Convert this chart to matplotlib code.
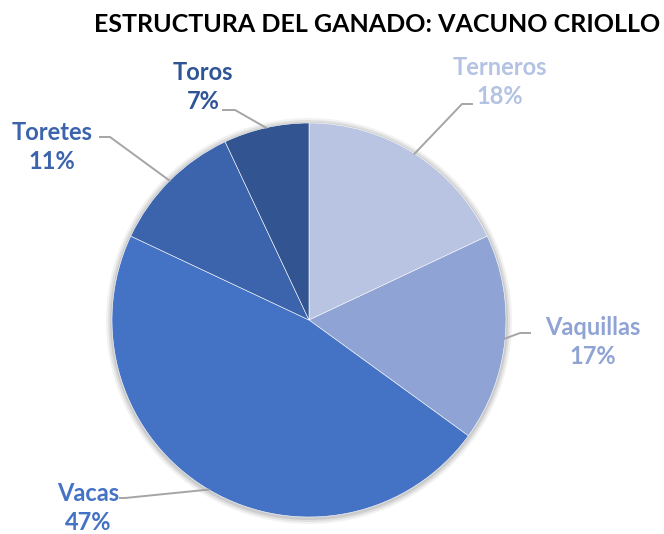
import matplotlib
matplotlib.use("Agg")
import matplotlib.pyplot as plt
import numpy as np
from matplotlib.patches import Circle

categories = ["Terneros", "Vaquillas", "Vacas", "Toretes", "Toros"]
shares = [18, 17, 47, 11, 7]
colors = ["#B9C3E2", "#8FA4D4", "#4472C4", "#3C64AC", "#325592"]
label_colors = ["#B4C2E3", "#8FA4D4", "#4472C4", "#3C64AC", "#2F5597"]

# layout in pixel space (y measured from the top of the picture)
W, H = 664, 534
cx, cy, r = 309, 320, 197
label_pos = [(500, 82), (593, 342), (88, 508), (52, 147), (203, 87)]
leader_knee = [(462, 104), (520, 333), (125, 498), (110, 137), (235, 110)]
leader_end = [(472, 104), (530, 333), (120, 498), (100, 137), (223, 110)]

fig = plt.figure(figsize=(W / 100, H / 100), dpi=100)
ax = fig.add_axes([0, 0, 1, 1])

# soft shadow behind the pie
for k, a in zip([6, 4, 2], [0.05, 0.07, 0.09]):
    ax.add_patch(Circle((cx, H - cy - 1), r + k, color="black", alpha=a, lw=0, zorder=0))

wedges, _ = ax.pie(shares, colors=colors, startangle=90, counterclock=False,
                   center=(cx, H - cy), radius=r, frame=True,
                   wedgeprops=dict(edgecolor="white", linewidth=0.4))
ax.set_xlim(0, W)
ax.set_ylim(0, H)
ax.set_aspect("equal")
ax.axis("off")

for w, name, val, col, lp, kn, en in zip(wedges, categories, shares, label_colors,
                                         label_pos, leader_knee, leader_end):
    mid = np.deg2rad((w.theta1 + w.theta2) / 2)
    px = cx + r * np.cos(mid)
    py = H - cy + r * np.sin(mid)
    ax.plot([px, kn[0], en[0]], [py, H - kn[1], H - en[1]], color="#A5A5A5", lw=1.4, zorder=3)
    ax.text(lp[0], H - lp[1], f"{name}\n{val}%", color=col, fontsize=17,
            fontweight="bold", family="Lato", ha="center", va="center",
            linespacing=1.32)

ax.text(377, H - 24, "ESTRUCTURA DEL GANADO: VACUNO CRIOLLO", fontsize=18,
        fontweight="bold", family="Lato", ha="center", va="center", color="black")

fig.savefig("out.png", dpi=100)
